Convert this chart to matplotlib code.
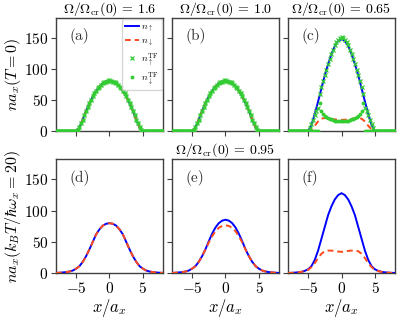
import matplotlib
matplotlib.use('Agg')
import matplotlib.pyplot as plt
import numpy as np

plt.rcParams['font.family'] = 'serif'
plt.rcParams['font.serif'] = ['cmr10', 'DejaVu Serif']
plt.rcParams['mathtext.fontset'] = 'cm'
plt.rcParams['axes.formatter.use_mathtext'] = True

# positions of the sampled points (line curves and TF markers)
x_line = np.arange(-8, 8.01, 0.5)
x_tf = np.arange(-8, 8.01, 0.25)

# T = 0, Omega/Omega_cr(0) = 1.6 and 1.0 (n_up = n_down)
a_n = [0, 0, 0, 0, 0, 0, 0, 6, 19, 33, 45, 56, 65, 72, 77, 80, 81,
       80, 77, 72, 65, 56, 45, 33, 19, 6, 0, 0, 0, 0, 0, 0, 0]
a_tf = [0, 0, 0, 0, 0, 0, 0, 0, 0, 0, 0, 0, 0,
        2, 7, 13, 19, 26, 33, 39, 45, 51, 56, 61, 65, 69, 72, 75, 77, 79, 80, 81, 82,
        81, 80, 79, 77, 75, 72, 69, 65, 61, 56, 51, 45, 39, 33, 26, 19, 13, 7, 2,
        0, 0, 0, 0, 0, 0, 0, 0, 0, 0, 0, 0, 0]
b_n = a_n
b_tf = a_tf

# T = 0, Omega/Omega_cr(0) = 0.65
c_up = [0, 0, 0, 0, 0, 0, 0.5, 10, 28, 48, 69, 90, 108, 124, 137, 145, 148,
        145, 137, 124, 108, 90, 69, 48, 28, 10, 0.5, 0, 0, 0, 0, 0, 0]
c_dn = [0, 0, 0, 0, 0, 0, 0.3, 3, 9, 16, 20.5, 21.5, 21, 20, 19.3, 18.8, 18.5,
        18.8, 19.3, 20, 21, 21.5, 20.5, 16, 9, 3, 0.3, 0, 0, 0, 0, 0, 0]
c_tf_up = [0, 0, 0, 0, 0, 0, 0, 0, 0, 0, 0, 0,
           0, 6, 12, 19, 26, 32, 38, 60, 72, 81, 90, 99, 108, 116, 124, 131, 138, 143, 147, 150, 152,
           150, 147, 143, 138, 131, 124, 116, 108, 99, 90, 81, 72, 60, 38, 32, 26, 19, 12, 6, 0,
           0, 0, 0, 0, 0, 0, 0, 0, 0, 0, 0, 0]
c_tf_dn = [0, 0, 0, 0, 0, 0, 0, 0, 0, 0, 0, 0, 0, 0, 0, 0, 0, 0, 0,
           46, 33, 28, 25, 23, 21.5, 20.5, 19.5, 18.5, 17.5, 17, 16.5, 16, 16,
           16, 16.5, 17, 17.5, 18.5, 19.5, 20.5, 21.5, 23, 25, 28, 33, 46,
           0, 0, 0, 0, 0, 0, 0, 0, 0, 0, 0, 0, 0, 0, 0, 0, 0, 0, 0]

# k_B T / hbar omega_x = 20
d_n = [0.3, 0.5, 1, 1.5, 2.5, 4, 7, 11, 18, 27, 38, 50, 62, 70, 76, 79, 80,
       79, 76, 70, 62, 50, 38, 27, 18, 11, 7, 4, 2.5, 1.5, 1, 0.5, 0.3]
e_up = [0.3, 0.5, 1, 1.5, 2.5, 4, 7, 11, 18, 27, 38, 51, 63, 73, 80, 84, 85.5,
        84, 80, 73, 63, 51, 38, 27, 18, 11, 7, 4, 2.5, 1.5, 1, 0.5, 0.3]
e_dn = [0.3, 0.5, 1, 1.5, 2.5, 4, 7, 11, 18, 27, 37.5, 49, 59, 67, 72.5, 75.5, 76.5,
        75.5, 72.5, 67, 59, 49, 37.5, 27, 18, 11, 7, 4, 2.5, 1.5, 1, 0.5, 0.3]
f_up = [0.2, 0.4, 0.7, 1.2, 2, 3.5, 6, 11, 21, 36, 55, 74, 93, 107, 118, 125, 128,
        125, 118, 107, 93, 74, 55, 36, 21, 11, 6, 3.5, 2, 1.2, 0.7, 0.4, 0.2]
f_dn = [0.2, 0.3, 0.6, 1, 2, 3, 5, 9.5, 16, 24, 31, 35, 36, 36, 35.5, 34.5, 34,
        34.5, 35.5, 36, 36, 35, 31, 24, 16, 9.5, 5, 3, 2, 1, 0.6, 0.3, 0.2]

titles = [r'$\Omega/\Omega_{\rm cr}(0)\,=\,1.6$', r'$\Omega/\Omega_{\rm cr}(0)\,=\,1.0$',
          r'$\Omega/\Omega_{\rm cr}(0)\,=\,0.65$']
title_e = r'$\Omega/\Omega_{\rm cr}(0)\,=\,0.95$'
panel_labels = ['(a)', '(b)', '(c)', '(d)', '(e)', '(f)']

blue = '#0000ff'
red = '#ff4a1a'
green = '#33cc33'

fig, axes = plt.subplots(2, 3, sharex=True, sharey=True, figsize=(3.97, 3.19), dpi=100)
fig.subplots_adjust(left=0.141, right=0.995, bottom=0.144, top=0.944, wspace=0.084, hspace=0.247)

top = [(a_n, a_n, a_tf, a_tf), (b_n, b_n, b_tf, b_tf), (c_up, c_dn, c_tf_up, c_tf_dn)]
for i, (nu, nd, tu, td) in enumerate(top):
    ax = axes[0, i]
    ax.plot(x_line, nu, color=blue, lw=1.4, label=r'$n_{\uparrow}$', zorder=3)
    ax.plot(x_line, nd, color=red, lw=1.4, ls='--', dashes=(3, 2), label=r'$n_{\downarrow}$', zorder=3)
    ax.plot(x_tf, tu, 'x', color=green, ms=3, mew=0.9, label=r'$n_{\uparrow}^{\rm TF}$', zorder=4)
    ax.plot(x_tf, td, '.', color=green, ms=3.5, label=r'$n_{\downarrow}^{\rm TF}$', zorder=4)
    ax.set_title(titles[i], fontsize=10, pad=1)

bottom = [(d_n, d_n), (e_up, e_dn), (f_up, f_dn)]
for i, (nu, nd) in enumerate(bottom):
    ax = axes[1, i]
    ax.plot(x_line, nu, color=blue, lw=1.4, zorder=3)
    ax.plot(x_line, nd, color=red, lw=1.4, ls='--', dashes=(3, 2), zorder=3)
    ax.set_xlabel(r'$x/a_x$', fontsize=12, labelpad=1)
axes[1, 1].set_title(title_e, fontsize=10, pad=1)

for k, ax in enumerate(axes.flat):
    ax.text(0.13, 0.84, panel_labels[k], transform=ax.transAxes, fontsize=11,
            ha='left', va='center', color='0.2')
    for s in ax.spines.values():
        s.set_color('0.25')
        s.set_linewidth(1.0)
    ax.tick_params(labelsize=11, color='0.25', length=3.5, pad=2)

axes[0, 0].set_xlim(-8, 8)
axes[0, 0].set_ylim(0, 182)
axes[0, 0].set_xticks([-5, 0, 5])
axes[0, 0].set_yticks([0, 50, 100, 150])
axes[0, 0].set_ylabel(r'$na_x(T=0)$', fontsize=11.5, labelpad=1)
axes[1, 0].set_ylabel(r'$na_x(k_BT/\hbar\omega_x=20)$', fontsize=11.5, labelpad=1)

axes[0, 0].legend(loc='upper right', fontsize=7, handlelength=1.5, handletextpad=0.2,
                  borderpad=0.3, labelspacing=0.3, borderaxespad=0.15)

fig.savefig('out.png', dpi=100)
